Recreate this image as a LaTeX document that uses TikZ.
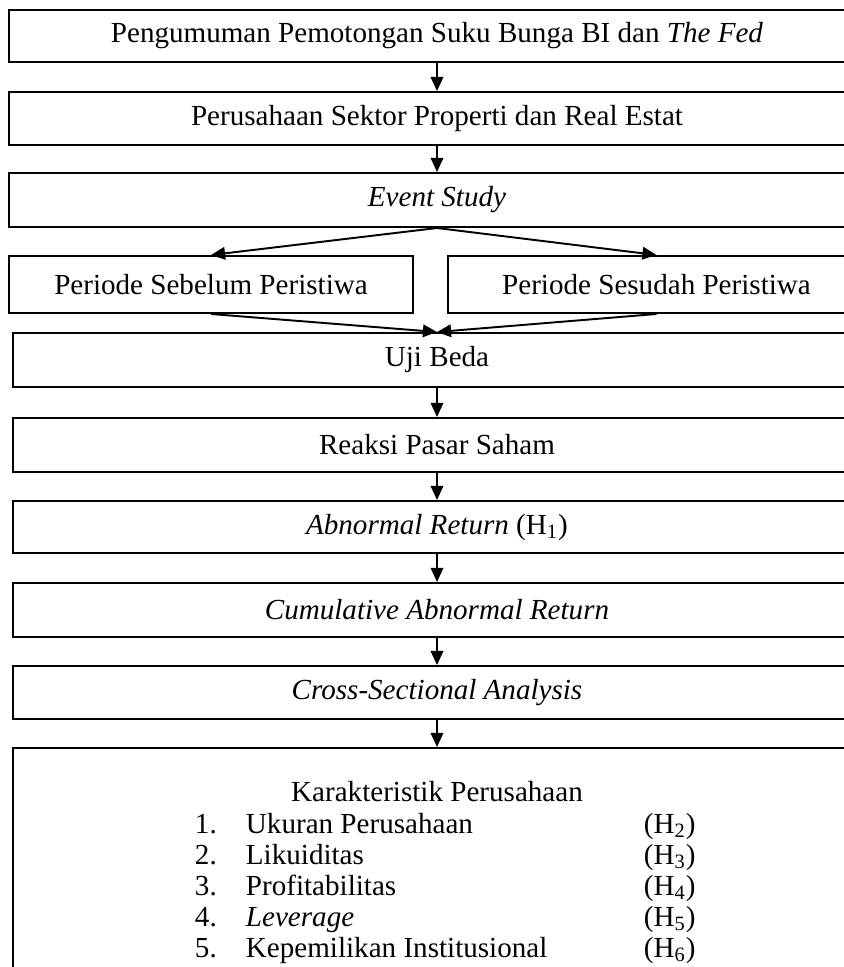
\documentclass[tikz,border=0pt]{standalone}
\usepackage{fontspec}
\setmainfont{Liberation Serif}
\usetikzlibrary{arrows.meta}
\begin{document}
\begin{tikzpicture}[x=0.44pt, y=-0.44pt, line width=0.85pt, >={Triangle[width=5.5pt,length=6.2pt]}]
    \tikzstyle{box}=[draw, rectangle, inner sep=0pt, font=\fontsize{12.8}{15}\selectfont]
    \tikzstyle{item}=[inner sep=0pt, anchor=base west, font=\fontsize{12.8}{15}\selectfont]
    \useasboundingbox (0,0) rectangle (844,967);
    \clip (0,0) rectangle (844,967);
    \node[box, minimum width=376.6pt, minimum height=22.9pt] (b1) at (437,36) {Pengumuman Pemotongan Suku Bunga BI dan \textit{The Fed}};
    \node[box, minimum width=376.6pt, minimum height=23.3pt] (b2) at (437,118.5) {Perusahaan Sektor Properti dan Real Estat};
    \node[box, minimum width=376.6pt, minimum height=23.8pt] (b3) at (437,200) {\textit{Event Study}};
    \node[box, minimum width=177.8pt, minimum height=25.1pt] (s1) at (211,284.5) {Periode Sebelum Peristiwa};
    \node[box, minimum width=183.5pt, minimum height=25.1pt] (s2) at (656.5,284.5) {Periode Sesudah Peristiwa};
    \node[box, minimum width=373.1pt, minimum height=23.8pt] (b5) at (437,360) {Uji Beda};
    \node[box, minimum width=373.1pt, minimum height=23.8pt] (b6) at (437,445) {Reaksi Pasar Saham};
    \node[box, minimum width=373.1pt, minimum height=22.9pt] (b7) at (437,527) {\textit{Abnormal Return} (H\textsubscript{1})};
    \node[box, minimum width=373.1pt, minimum height=23.8pt] (b8) at (437,610) {\textit{Cumulative Abnormal Return}};
    \node[box, minimum width=373.1pt, minimum height=23.3pt] (b9) at (437,692.5) {\textit{Cross-Sectional Analysis}};
    \node[box, minimum width=373.1pt, minimum height=110.9pt] (b10) at (437,874) {};
    % isi kotak karakteristik
    \node[item, anchor=base] (k0) at (437,801) {Karakteristik Perusahaan};
    \node[item] (n1) at (194,833) {1.};
    \node[item] (n2) at (194,864) {2.};
    \node[item] (n3) at (194,895) {3.};
    \node[item] (n4) at (194,926) {4.};
    \node[item] (n5) at (194,957) {5.};
    \node[item] (k1) at (245,833) {Ukuran Perusahaan};
    \node[item] (k2) at (245,864) {Likuiditas};
    \node[item] (k3) at (245,895) {Profitabilitas};
    \node[item] (k4) at (245,926) {\textit{Leverage}};
    \node[item] (k5) at (245,957) {Kepemilikan Institusional};
    \node[item] (h1) at (643,833) {(H\textsubscript{2})};
    \node[item] (h2) at (643,864) {(H\textsubscript{3})};
    \node[item] (h3) at (643,895) {(H\textsubscript{4})};
    \node[item] (h4) at (643,926) {(H\textsubscript{5})};
    \node[item] (h5) at (643,957) {(H\textsubscript{6})};
    \draw[->] (b1) -- (b2);
    \draw[->] (b2) -- (b3);
    \draw[->] (b3.south) -- (s1.north);
    \draw[->] (b3.south) -- (s2.north);
    \draw[->] (s1.south) -- (b5.north);
    \draw[->] (s2.south) -- (b5.north);
    \draw[->] (b5) -- (b6);
    \draw[->] (b6) -- (b7);
    \draw[->] (b7) -- (b8);
    \draw[->] (b8) -- (b9);
    \draw[->] (b9) -- (b10);
\end{tikzpicture}
\end{document}
